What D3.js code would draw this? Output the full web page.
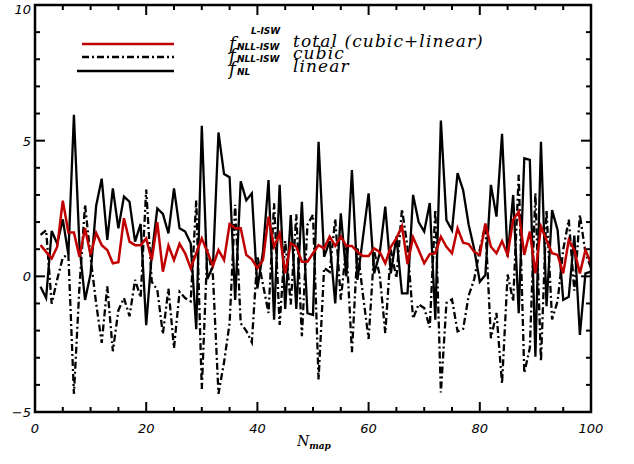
<!DOCTYPE html>
<html>
<head>
<meta charset="utf-8">
<script src="https://cdn.jsdelivr.net/npm/d3@7"></script>
<style>
  html, body { margin: 0; padding: 0; background: #fff; }
  .tick-label { font-family: "DejaVu Sans", sans-serif; font-style: italic; font-size: 13px; fill: #000; }
  .leg-text { font-family: "DejaVu Serif", serif; font-style: italic; font-size: 17px; letter-spacing: 1.1px; fill: #000; }
  .leg-f { font-family: "DejaVu Serif", serif; font-style: italic; font-size: 18px; fill: #000; }
  .leg-sub { font-family: "DejaVu Sans", sans-serif; font-style: italic; font-weight: bold; font-size: 9px; fill: #000; }
</style>
</head>
<body>
<div id="chart"></div>
<script>
// N_map index 1..100
const nMap = d3.range(1, 101);

// f_NL linear
const linear = [
  -0.38, -0.8, 1.67, 1.2, 2.1, 0.8, 5.95, 1.1, -0.87, 0.1,
  2.6, 3.6, 1.34, 3.24, 1.77, 2.94, 2.75, 1.28, 1.93, -1.8,
  0.8, 2.5, 2.3, 1.58, 3.24, 1.77, 1.65, 1.22, -1.95, 5.55,
  -0.1, 0.36, 5.3, 3.77, 3.65, -0.87, 3.5, 2.8, 3.06, -0.45,
  0.9, 3.55, -1.6, 3.37, -1.2, 2.26, -1.2, 2.75, -1.36, -1.42,
  4.96, 0.72, 1.3, -1.0, 2.32, 0.0, 3.92, -0.13, 1.46, 3.06,
  0.11, 0.85, 2.57, 0.11, 1.46, -0.63, -0.63, 3.0, 2.0, 1.65,
  2.7, -1.6, 5.74, 2.07, 1.7, 3.8, 3.18, 1.9, 1.0, -0.2,
  0.05, 3.37, 2.2, 5.25, 0.72, 3.0, -1.36, 4.35, 4.29, -2.96,
  4.96, -1.1, 2.44, 1.7, -0.87, -0.75, 1.5, -2.16, 0.11, 0.17
];

// f_NL L-ISW cubic
const cubic = [
  1.53, 1.7, -1.01, -0.11, 0.69, 0.82, -4.33, -0.38, 2.64, 0.69,
  -1.0, -2.45, -0.37, -2.76, -1.25, -0.8, -1.47, -0.13, -0.78, 3.2,
  -0.2, -0.5, -2.13, -0.45, -2.64, -0.57, -0.8, -0.92, 2.8, -4.15,
  1.0, 0.03, -4.33, -3.17, -1.73, 2.64, -1.73, -2.01, -2.43, 0.75,
  -0.3, -1.35, 2.69, -1.79, 1.31, -1.04, 2.29, -2.21, 1.9, 2.27,
  -3.81, 0.31, 0.16, 2.12, -0.86, 1.12, -2.8, 1.03, -0.71, -2.31,
  0.92, 0.05, -2.09, 0.98, -0.06, 2.48, 1.08, -1.56, -1.03, -1.17,
  -1.88, 2.45, -4.28, -0.98, -0.85, -2.03, -1.94, -0.71, -0.1, 0.99,
  1.9, -2.28, -1.35, -3.95, 0.07, -0.92, 3.74, -3.56, -2.64, 3.07,
  -3.13, 2.44, -1.59, -0.91, 0.98, 2.09, -0.53, 2.27, 0.86, 0.31
];

// f_NL L-ISW total (cubic+linear)
const total = [
  1.15, 0.9, 0.66, 1.09, 2.79, 1.62, 1.62, 0.72, 1.77, 0.79,
  1.6, 1.15, 0.97, 0.48, 0.52, 2.14, 1.28, 1.15, 1.15, 1.4,
  0.6, 2.0, 0.17, 1.13, 0.6, 1.2, 0.85, 0.3, 0.85, 1.4,
  0.9, 0.39, 0.97, 0.6, 1.92, 1.77, 1.77, 0.79, 0.63, 0.3,
  0.6, 2.2, 1.09, 1.58, 0.11, 1.22, 1.09, 0.54, 0.54, 0.85,
  1.15, 1.03, 1.46, 1.12, 1.46, 1.12, 1.12, 0.9, 0.75, 0.75,
  1.03, 0.9, 0.48, 1.09, 1.4, 1.85, 0.45, 1.44, 0.97, 0.48,
  0.82, 0.85, 1.46, 1.09, 0.85, 1.77, 1.24, 1.19, 0.9, 0.79,
  1.95, 1.09, 0.85, 1.3, 0.79, 2.08, 2.38, 0.79, 1.65, 0.11,
  1.83, 1.34, 0.85, 0.79, 0.11, 1.34, 0.97, 0.11, 0.97, 0.48
];

const xTicks = [0, 20, 40, 60, 80, 100];
const yTicks = [-5, 0, 5, 10];

(function () {
  const width = 634, height = 464;
  const mL = 35, mR = 591, mT = 5, mB = 412;

  const svg = d3.select("#chart").append("svg")
    .attr("width", width)
    .attr("height", height);

  const x = d3.scaleLinear().domain([0, 100]).range([mL, mR]);
  const y = d3.scaleLinear().domain([-5, 10]).range([mB, mT]);

  svg.append("clipPath").attr("id", "clip")
    .append("rect")
    .attr("x", mL).attr("y", mT)
    .attr("width", mR - mL).attr("height", mB - mT);

  const line = d3.line()
    .x((d, i) => x(nMap[i]))
    .y(d => y(d));

  const plot = svg.append("g").attr("clip-path", "url(#clip)");

  // linear (solid black)
  plot.append("path")
    .datum(linear)
    .attr("d", line)
    .attr("fill", "none")
    .attr("stroke", "#000")
    .attr("stroke-width", 2.3);

  // cubic (dash-dot)
  plot.append("path")
    .datum(cubic)
    .attr("d", line)
    .attr("fill", "none")
    .attr("stroke", "#000")
    .attr("stroke-width", 2.3)
    .attr("stroke-dasharray", "7,3,2,3");

  // total (red)
  plot.append("path")
    .datum(total)
    .attr("d", line)
    .attr("fill", "none")
    .attr("stroke", "#c00000")
    .attr("stroke-width", 2.5);

  // inward ticks on all four sides
  const axW = 2;
  d3.range(0, 101, 5).forEach(v => {
    const len = v % 20 === 0 ? 10 : 5;
    svg.append("line").attr("x1", x(v)).attr("x2", x(v)).attr("y1", mB).attr("y2", mB - len)
      .attr("stroke", "#000").attr("stroke-width", axW);
    svg.append("line").attr("x1", x(v)).attr("x2", x(v)).attr("y1", mT).attr("y2", mT + len)
      .attr("stroke", "#000").attr("stroke-width", axW);
  });
  d3.range(-5, 11, 1).forEach(v => {
    const len = v % 5 === 0 ? 10 : 5;
    svg.append("line").attr("x1", mL).attr("x2", mL + len).attr("y1", y(v)).attr("y2", y(v))
      .attr("stroke", "#000").attr("stroke-width", axW);
    svg.append("line").attr("x1", mR).attr("x2", mR - len).attr("y1", y(v)).attr("y2", y(v))
      .attr("stroke", "#000").attr("stroke-width", axW);
  });

  svg.append("rect")
    .attr("x", mL).attr("y", mT)
    .attr("width", mR - mL).attr("height", mB - mT)
    .attr("fill", "none").attr("stroke", "#000").attr("stroke-width", 2.5);

  // tick labels
  svg.selectAll(".xlab").data(xTicks).enter().append("text")
    .attr("class", "tick-label")
    .attr("x", d => x(d))
    .attr("y", mB + 21)
    .attr("text-anchor", "middle")
    .text(d => d);

  svg.selectAll(".ylab").data(yTicks).enter().append("text")
    .attr("class", "tick-label")
    .attr("x", mL - 4)
    .attr("y", d => d === 10 ? y(d) + 9 : y(d) + 5)
    .attr("text-anchor", "end")
    .text(d => d < 0 ? "\u2212" + Math.abs(d) : d);

  // x title N_map
  const xt = svg.append("text")
    .attr("x", 297).attr("y", 446)
    .attr("font-family", "DejaVu Serif, serif")
    .attr("font-style", "italic")
    .attr("font-size", 14);
  xt.append("tspan").text("N");
  xt.append("tspan").attr("dy", 3).attr("font-size", 9).attr("font-weight", "bold").text("map");

  // legend
  const legLines = [
    { y: 44, x0: 82, color: "#c00000", dash: null, w: 2.5 },
    { y: 57, x0: 82, color: "#000", dash: "7,3,2,3", w: 2.3 },
    { y: 71, x0: 77, color: "#000", dash: null, w: 2.3 }
  ];
  legLines.forEach(l => {
    svg.append("line")
      .attr("x1", l.x0).attr("x2", 174)
      .attr("y1", l.y).attr("y2", l.y)
      .attr("stroke", l.color)
      .attr("stroke-width", l.w)
      .attr("stroke-dasharray", l.dash);
  });

  svg.append("text").attr("class", "leg-sub").attr("x", 251).attr("y", 34).text("L-ISW");

  const legRows = [
    { fy: 50, sub: "NLL-ISW", subY: 50, label: "total (cubic+linear)", ly: 47 },
    { fy: 62, sub: "NLL-ISW", subY: 62, label: "cubic", ly: 59 },
    { fy: 75, sub: "NL", subY: 75, label: "linear", ly: 72 }
  ];
  legRows.forEach(r => {
    svg.append("text").attr("class", "leg-f").attr("x", 229).attr("y", r.fy).text("f");
    svg.append("text").attr("class", "leg-sub").attr("x", 237).attr("y", r.subY).text(r.sub);
    svg.append("text").attr("class", "leg-text").attr("x", 293).attr("y", r.ly).text(r.label);
  });
})();
</script>
</body>
</html>
